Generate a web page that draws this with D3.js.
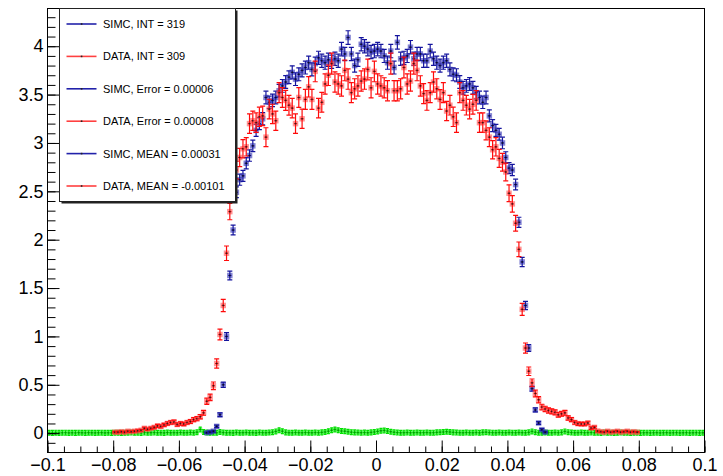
<!DOCTYPE html>
<html>
<head>
<meta charset="utf-8">
<script src="https://cdn.jsdelivr.net/npm/d3@7"></script>
<style>
  html, body { margin: 0; padding: 0; background: #fff; }
  svg { display: block; font-family: "Liberation Sans", Arial, Helvetica, sans-serif; }
</style>
</head>
<body>
<svg id="chart" width="723" height="476"></svg>
<script>
// SIMC / DATA histograms: 160 bins of 0.001 from -0.08 to 0.08
const binStart = -0.08;
const binWidth = 0.001;

const simcValues = [
  0,0,0,0,0,0,0,0,0,0,
  0,0,0,0,0,0,0,0,0,0,
  0,0,0,0,0,0,0,0,0.005,0.01,
  0.02,0.07,0.19,0.50,1.00,1.63,2.10,2.49,2.62,2.66,
  2.79,2.87,2.97,3.13,3.20,3.25,3.47,3.42,3.44,3.47,
  3.54,3.59,3.63,3.68,3.73,3.66,3.71,3.75,3.78,3.83,
  3.76,3.82,3.88,3.85,3.83,3.86,3.84,3.87,3.85,3.97,
  3.92,4.09,3.92,3.80,3.86,4.02,4.00,3.97,3.94,3.95,
  3.97,3.95,3.90,3.83,3.95,3.78,4.04,3.87,3.88,3.90,
  3.99,3.87,3.92,3.92,3.85,3.85,3.95,3.87,3.83,3.80,
  3.83,3.85,3.76,3.71,3.70,3.63,3.57,3.59,3.61,3.57,
  3.52,3.47,3.42,3.47,3.28,3.18,3.13,3.09,3.00,2.85,
  2.74,2.72,2.57,2.18,1.77,1.32,0.88,0.46,0.24,0.105,
  0.036,0.01,0,0,0,0,0,0,0,0,
  0,0,0,0,0,0,0,0,0,0,
  0,0,0,0,0,0,0,0,0,0
];
const simcErrors = [
  0,0,0,0,0,0,0,0,0,0,
  0,0,0,0,0,0,0,0,0,0,
  0,0,0,0,0,0,0,0,0.006,0.008,
  0.01,0.013,0.019,0.028,0.04,0.046,0.051,0.055,0.057,0.057,
  0.058,0.059,0.06,0.062,0.062,0.063,0.065,0.064,0.065,0.065,
  0.065,0.066,0.066,0.066,0.067,0.066,0.067,0.067,0.067,0.068,
  0.067,0.068,0.068,0.068,0.068,0.068,0.068,0.068,0.068,0.069,
  0.068,0.07,0.068,0.067,0.068,0.069,0.069,0.069,0.068,0.069,
  0.069,0.069,0.068,0.068,0.069,0.067,0.069,0.068,0.068,0.068,
  0.069,0.068,0.068,0.068,0.068,0.068,0.069,0.068,0.068,0.067,
  0.068,0.068,0.067,0.067,0.067,0.066,0.066,0.066,0.066,0.066,
  0.065,0.065,0.064,0.065,0.063,0.062,0.062,0.061,0.06,0.059,
  0.058,0.058,0.056,0.052,0.048,0.042,0.035,0.027,0.021,0.015,
  0.011,0.008,0,0,0,0,0,0,0,0,
  0,0,0,0,0,0,0,0,0,0,
  0,0,0,0,0,0,0,0,0,0
];

const dataValues = [
  0.01,0.01,0.015,0.01,0.02,0.015,0.02,0.025,0.03,0.05,
  0.04,0.05,0.06,0.075,0.07,0.085,0.10,0.11,0.115,0.09,
  0.10,0.095,0.11,0.12,0.14,0.15,0.17,0.21,0.33,0.37,
  0.49,0.72,1.02,1.32,1.86,2.29,2.62,2.72,2.85,2.94,
  2.96,3.20,3.23,3.21,3.27,3.28,3.06,3.35,3.30,3.23,
  3.52,3.47,3.44,3.39,3.36,3.20,3.47,3.25,3.45,3.58,
  3.45,3.74,3.36,3.42,3.61,3.70,3.82,3.63,3.61,3.59,
  3.75,3.66,3.52,3.56,3.59,3.64,3.66,3.76,3.57,3.74,
  3.61,3.59,3.57,3.54,3.82,3.54,3.54,3.56,3.78,3.61,
  3.64,3.82,3.75,3.59,3.51,3.44,3.52,3.63,3.56,3.45,
  3.52,3.33,3.39,3.27,3.21,3.52,3.44,3.39,3.35,3.40,
  3.44,3.21,3.21,3.13,3.06,2.93,2.96,2.84,2.80,2.70,
  2.48,2.37,2.17,1.90,1.28,0.88,0.64,0.52,0.41,0.345,
  0.27,0.25,0.235,0.225,0.215,0.19,0.20,0.21,0.157,0.14,
  0.11,0.098,0.095,0.095,0.105,0.053,0.06,0.022,0.015,0.01,
  0.02,0.01,0.015,0.02,0.01,0.015,0.02,0.01,0.015,0.01
];
const dataErrors = [
  0.008,0.008,0.008,0.008,0.01,0.008,0.01,0.01,0.01,0.012,
  0.012,0.012,0.014,0.015,0.015,0.016,0.018,0.018,0.019,0.017,
  0.018,0.017,0.018,0.019,0.021,0.022,0.023,0.025,0.032,0.034,
  0.039,0.047,0.056,0.064,0.075,0.084,0.09,0.092,0.094,0.095,
  0.095,0.1,0.1,0.1,0.1,0.1,0.097,0.102,0.1,0.1,
  0.104,0.103,0.103,0.102,0.101,0.1,0.103,0.1,0.103,0.105,
  0.103,0.107,0.101,0.102,0.105,0.106,0.108,0.105,0.105,0.105,
  0.107,0.105,0.103,0.104,0.105,0.105,0.105,0.107,0.104,0.107,
  0.105,0.105,0.104,0.104,0.108,0.104,0.104,0.104,0.107,0.105,
  0.105,0.108,0.107,0.105,0.103,0.102,0.103,0.105,0.104,0.102,
  0.103,0.1,0.101,0.1,0.1,0.103,0.102,0.101,0.101,0.102,
  0.102,0.1,0.1,0.098,0.097,0.095,0.095,0.093,0.092,0.091,
  0.087,0.085,0.081,0.076,0.062,0.052,0.044,0.04,0.035,0.032,
  0.029,0.028,0.027,0.026,0.026,0.024,0.025,0.025,0.022,0.021,
  0.018,0.017,0.017,0.017,0.018,0.013,0.013,0.008,0.007,0.006,
  0.008,0.006,0.007,0.008,0.006,0.007,0.008,0.006,0.007,0.006
];

// third (green) histogram, 200 bins over the full range
const greenStart = -0.1;
const greenValues = [
  0.004,0.003,0.005,0.003,0.004,0.005,0.003,0.004,0.003,0.005,
  0.004,0.003,0.005,0.004,0.003,0.004,0.005,0.003,0.004,0.003,
  0.005,0.004,0.003,0.004,0.005,0.006,0.004,0.005,0.003,0.006,
  0.004,0.005,0.006,0.004,0.005,0.003,0.006,0.004,0.005,0.004,
  0.006,0.004,0.005,0.007,0.005,0.01,0.038,0.012,0.006,0.004,
  0.005,0.004,0.012,0.006,0.004,0.005,0.003,0.006,0.004,0.005,
  0.006,0.004,0.005,0.003,0.006,0.005,0.004,0.006,0.01,0.018,
  0.03,0.02,0.008,0.005,0.004,0.006,0.005,0.004,0.006,0.005,
  0.004,0.006,0.005,0.008,0.012,0.02,0.03,0.038,0.03,0.022,
  0.02,0.015,0.01,0.008,0.006,0.005,0.006,0.004,0.008,0.012,
  0.018,0.025,0.028,0.022,0.015,0.01,0.006,0.004,0.005,0.006,
  0.004,0.005,0.006,0.004,0.005,0.006,0.004,0.005,0.008,0.01,
  0.012,0.015,0.012,0.008,0.006,0.005,0.004,0.006,0.005,0.004,
  0.006,0.004,0.008,0.01,0.006,0.005,0.004,0.006,0.005,0.004,
  0.006,0.005,0.004,0.006,0.005,0.004,0.008,0.018,0.01,0.005,
  0.004,0.006,0.005,0.004,0.006,0.005,0.008,0.018,0.01,0.006,
  0.004,0.005,0.006,0.004,0.005,0.006,0.004,0.005,0.003,0.006,
  0.004,0.005,0.003,0.004,0.006,0.004,0.005,0.003,0.004,0.005,
  0.003,0.004,0.005,0.003,0.004,0.005,0.003,0.004,0.005,0.003,
  0.004,0.005,0.003,0.004,0.005,0.003,0.004,0.005,0.003,0.004
];
const greenError = 0.025;

const legendLabels = [
  'SIMC, INT = 319',
  'DATA, INT = 309',
  'SIMC, Error = 0.00006',
  'DATA, Error = 0.00008',
  'SIMC, MEAN = 0.00031',
  'DATA, MEAN = -0.00101'
];

const xMajorTicks = d3.range(-5, 6).map(i => i * 0.02);
const xMinorTicks = d3.range(-20, 21).map(i => i * 0.005);
const yMajorTicks = d3.range(0, 9).map(i => i * 0.5);
const yMinorTicks = d3.range(-1, 44).map(i => i * 0.1);

const styles = {
  simc: { bar: '#14149e', marker: 'rgba(50,50,180,0.6)', dot: '#111', cap: 5, size: 5.5 },
  data: { bar: '#ff0a0a', marker: 'rgba(255,80,80,0.6)', dot: '#222', cap: 5, size: 5.5 },
  green: { bar: '#00e000', marker: 'rgba(70,245,70,0.75)', dot: '#0a8a0a', cap: 3, size: 4 }
};

const svg = d3.select('#chart');

const x = d3.scaleLinear().domain([-0.1, 0.1]).range([47.5, 704.5]);
const y = d3.scaleLinear().domain([-0.2, 4.39]).range([452.5, 8.5]);

svg.append('defs').append('clipPath').attr('id', 'plot-clip')
  .append('rect')
  .attr('x', x(-0.1)).attr('y', y(4.39))
  .attr('width', x(0.1) - x(-0.1)).attr('height', y(-0.2) - y(4.39));

// build points for one histogram
function binPoints(values, errors, start) {
  return values.map((v, i) => ({
    c: start + binWidth * (i + 0.5),
    v: v,
    e: Array.isArray(errors) ? errors[i] : errors
  })).filter(d => d.v > 0);
}

const plot = svg.append('g').attr('clip-path', 'url(#plot-clip)');

function drawSeries(points, st) {
  const g = plot.append('g');
  const pt = g.selectAll('g').data(points).join('g');

  pt.append('rect')
    .attr('x', d => x(d.c) - st.size / 2)
    .attr('y', d => y(d.v) - st.size / 2)
    .attr('width', st.size)
    .attr('height', st.size)
    .attr('fill', st.marker);

  // horizontal bar over the bin
  pt.append('line')
    .attr('x1', d => x(d.c - binWidth / 2))
    .attr('x2', d => x(d.c + binWidth / 2))
    .attr('y1', d => y(d.v))
    .attr('y2', d => y(d.v))
    .attr('stroke', st.bar).attr('stroke-width', 1);

  // vertical error + caps
  pt.append('line')
    .attr('x1', d => x(d.c)).attr('x2', d => x(d.c))
    .attr('y1', d => y(d.v - d.e)).attr('y2', d => y(d.v + d.e))
    .attr('stroke', st.bar).attr('stroke-width', 1.2);
  pt.append('line')
    .attr('x1', d => x(d.c) - st.cap / 2).attr('x2', d => x(d.c) + st.cap / 2)
    .attr('y1', d => y(d.v + d.e)).attr('y2', d => y(d.v + d.e))
    .attr('stroke', st.bar).attr('stroke-width', 1.2);
  pt.append('line')
    .attr('x1', d => x(d.c) - st.cap / 2).attr('x2', d => x(d.c) + st.cap / 2)
    .attr('y1', d => y(d.v - d.e)).attr('y2', d => y(d.v - d.e))
    .attr('stroke', st.bar).attr('stroke-width', 1.2);

  pt.append('rect')
    .attr('x', d => x(d.c) - 0.75)
    .attr('y', d => y(d.v) - 0.75)
    .attr('width', 1.5).attr('height', 1.5)
    .attr('fill', st.dot);
}

drawSeries(binPoints(greenValues, greenError, greenStart), styles.green);
drawSeries(binPoints(simcValues, simcErrors, binStart), styles.simc);
drawSeries(binPoints(dataValues, dataErrors, binStart), styles.data);

// axes (ticks inside the frame)
const fmt = d3.format('~g');
const axisFont = 18;

const xMinor = svg.append('g').attr('transform', `translate(0,${y(-0.2)})`)
  .call(d3.axisBottom(x).tickValues(xMinorTicks).tickSize(-6).tickSizeOuter(0).tickFormat(''));
const xMajor = svg.append('g').attr('transform', `translate(0,${y(-0.2)})`)
  .call(d3.axisBottom(x).tickValues(xMajorTicks).tickSize(-12).tickSizeOuter(0).tickPadding(6).tickFormat(fmt));

const yMinor = svg.append('g').attr('transform', `translate(${x(-0.1)},0)`)
  .call(d3.axisLeft(y).tickValues(yMinorTicks).tickSize(-8).tickSizeOuter(0).tickFormat(''));
const yMajor = svg.append('g').attr('transform', `translate(${x(-0.1)},0)`)
  .call(d3.axisLeft(y).tickValues(yMajorTicks).tickSize(-12).tickSizeOuter(0).tickPadding(4).tickFormat(fmt));

[xMinor, xMajor, yMinor, yMajor].forEach(a => {
  a.select('.domain').remove();
  a.selectAll('.tick line').attr('stroke', '#000').attr('stroke-width', 1);
  a.selectAll('.tick text')
    .attr('font-family', '"Liberation Sans", Arial, Helvetica, sans-serif')
    .attr('font-size', axisFont)
    .attr('fill', '#000');
});
yMinor.selectAll('.tick').filter(d => d <= -0.15).remove();

// frame
svg.append('rect')
  .attr('x', x(-0.1)).attr('y', y(4.39))
  .attr('width', x(0.1) - x(-0.1)).attr('height', y(-0.2) - y(4.39))
  .attr('fill', 'none').attr('stroke', '#000').attr('stroke-width', 1);

// legend
const legendBox = { x: 59.5, y: 8.5, w: 176, h: 193 };
const legend = svg.append('g');
legend.append('rect')
  .attr('x', legendBox.x + 2).attr('y', legendBox.y + 2)
  .attr('width', legendBox.w).attr('height', legendBox.h)
  .attr('fill', '#222');
legend.append('rect')
  .attr('x', legendBox.x).attr('y', legendBox.y)
  .attr('width', legendBox.w).attr('height', legendBox.h)
  .attr('fill', '#fff').attr('stroke', '#222').attr('stroke-width', 1);

const rows = legend.selectAll('g.row')
  .data(legendLabels)
  .join('g')
  .attr('class', 'row')
  .attr('transform', (d, i) => `translate(0,${legendBox.y + 15.5 + i * 32.4})`);

rows.append('line')
  .attr('x1', 66.5).attr('x2', 96.5)
  .attr('y1', 0).attr('y2', 0)
  .attr('stroke', (d, i) => i % 2 === 0 ? '#2222aa' : '#ff4040')
  .attr('stroke-width', 1.6);
rows.append('rect')
  .attr('x', 80.8).attr('y', -0.8).attr('width', 1.6).attr('height', 1.6)
  .attr('fill', '#222');
rows.append('text')
  .attr('x', 103)
  .attr('y', 4)
  .attr('font-size', 11)
  .attr('fill', '#000')
  .text(d => d);
</script>
</body>
</html>
